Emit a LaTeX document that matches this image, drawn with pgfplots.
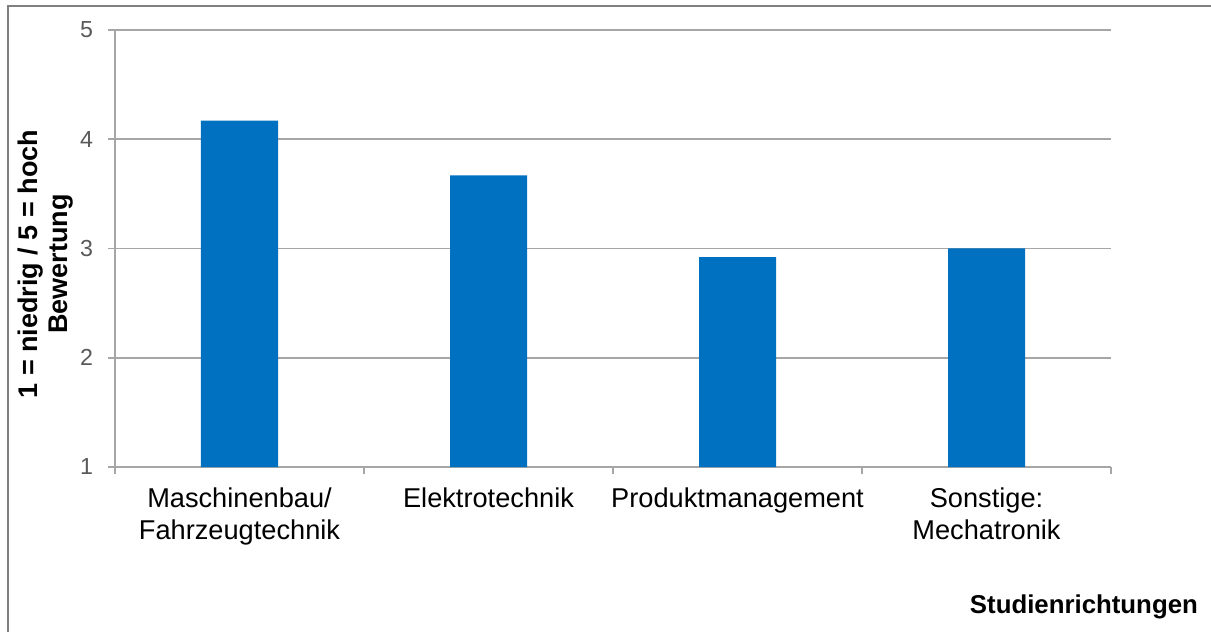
\documentclass[border=0pt]{standalone}
\usepackage{fontspec}
\setmainfont{Liberation Sans}
\usepackage{pgfplots}
\pgfplotsset{compat=1.18}
\definecolor{barblue}{HTML}{0070C0}
\definecolor{gridgray}{HTML}{A6A6A6}
\definecolor{ticktext}{HTML}{595959}
\definecolor{framegray}{HTML}{808080}
\begin{document}
\begin{tikzpicture}[x=1pt,y=1pt]
\path[use as bounding box] (0,0) rectangle (605.5,316);
\draw[framegray, line width=1pt] (4,0) -- (4,313) -- (605.5,313);
\begin{axis}[
  at={(57.5pt,82.5pt)}, anchor=south west,
  scale only axis, width=498pt, height=218.5pt,
  xmin=-0.5, xmax=3.5, ymin=1, ymax=5,
  enlargelimits=false,
  axis x line*=bottom, axis y line*=left,
  axis line style={draw=gridgray, line width=0.75pt, -},
  ytick={1,2,3,4,5},
  ymajorgrids, major grid style={gridgray, line width=0.75pt},
  xtick={-0.5,0.5,1.5,2.5,3.5}, xticklabels={},
  extra x ticks={0,1,2,3},
  extra x tick labels={{Maschinenbau/\\Fahrzeugtechnik},{Elektrotechnik},{Produktmanagement},{Sonstige:\\Mechatronik}},
  extra x tick style={major tick length=0pt, xmajorgrids=false},
  x tick label style={align=center, font=\fontsize{13.6}{16}\selectfont, text=black, yshift=-7pt},
  y tick label style={font=\fontsize{11.6}{13}\selectfont, text=ticktext, xshift=-4pt},
  /pgf/number format/assume math mode=true,
  tick align=outside, major tick length=3.5pt,
  tick style={gridgray, line width=0.75pt},
  ylabel={1 = niedrig / 5 = hoch\\Bewertung},
  ylabel style={at={(axis description cs:-0.0693,0.4645)}, rotate=0, anchor=center, align=center, font=\fontsize{13.5}{15}\bfseries},
  xlabel={Studienrichtungen},
  xlabel style={at={(axis description cs:1.0943,-0.320)}, anchor=east, font=\fontsize{12.9}{15}\bfseries},
  ybar, bar width=38.5pt,
]
\addplot[fill=barblue, draw=none] coordinates {(0,4.17) (1,3.67) (2,2.92) (3,3.0)};
\end{axis}
\end{tikzpicture}
\end{document}
